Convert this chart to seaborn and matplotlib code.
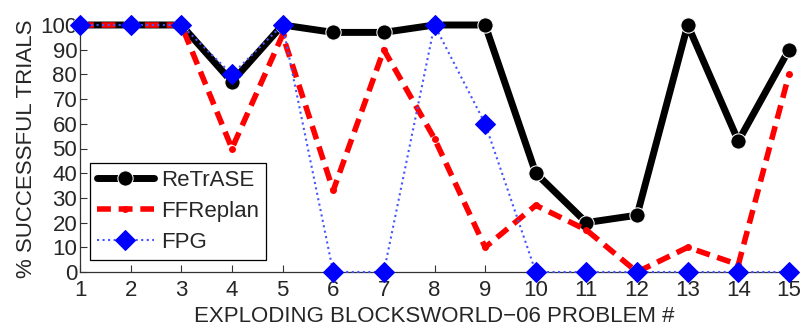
import pandas as pd
import seaborn as sns
import matplotlib.pyplot as plt

problems = list(range(1, 16))
retrase = [100, 100, 100, 77, 100, 97, 97, 100, 100, 40, 20, 23, 100, 53, 90]
ffreplan = [100, 100, 100, 50, 96, 33, 90, 54, 10, 27, 17, 0, 10, 3, 80]
fpg = [100, 100, 100, 80, 100, 0, 0, 100, 60, 0, 0, 0, 0, 0, 0]

sns.set_style("ticks")
plt.rcParams['font.family'] = ['Liberation Sans', 'DejaVu Sans']

fig = plt.figure(figsize=(8.02, 3.33), dpi=100)
ax = fig.add_axes([80 / 802, 61 / 333, 709 / 802, 247 / 333])

sns.lineplot(x=problems, y=retrase, ax=ax, color="black", lw=5,
             marker="o", markersize=11, label="ReTrASE", clip_on=False, zorder=3)
sns.lineplot(x=problems, y=ffreplan, ax=ax, color="red", lw=4,
             marker="o", markersize=5, markeredgewidth=0, label="FFReplan", clip_on=False, zorder=4)
ax.lines[-1].set_dashes((2.5, 1.4))
sns.lineplot(x=problems, y=fpg, ax=ax, color="blue", lw=1.5,
             marker="D", markersize=10, label="FPG", clip_on=False, zorder=5)
ax.lines[-1].set_linestyle(":")
ax.lines[-1].set_color("#4455ff")
ax.lines[-1].set_markerfacecolor("blue")
ax.lines[-1].set_markeredgecolor("blue")

ax.set_xlim(1, 15)
ax.set_ylim(0, 100)
ax.set_xticks(problems)
ax.set_yticks(range(0, 101, 10))
ax.tick_params(direction="in", labelsize=16, length=5, width=0.8, pad=2,
               color="#333333")
ax.tick_params(axis="x", pad=6)
ax.set_xlabel("EXPLODING BLOCKSWORLD\u221206 PROBLEM #", fontsize=16, labelpad=3)
ax.set_ylabel("% SUCCESSFUL TRIALS", fontsize=16, labelpad=2)
sns.despine(ax=ax)
for s in ax.spines.values():
    s.set_linewidth(0.9)
    s.set_color("#333333")

leg = ax.legend(loc="lower left", bbox_to_anchor=(0.014, 0.05), fontsize=16,
                frameon=True, fancybox=False, edgecolor="black", framealpha=1,
                handlelength=2.6, borderpad=0.3, labelspacing=0.45, handletextpad=0.3,
                borderaxespad=0)
leg.get_frame().set_linewidth(0.9)

fig.savefig("out.png", dpi=100)
